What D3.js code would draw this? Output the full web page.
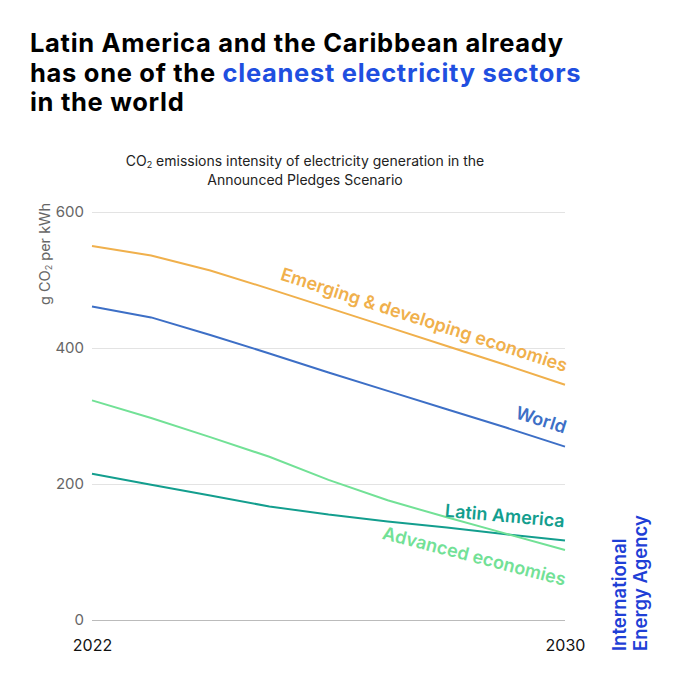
<!DOCTYPE html>
<html>
<head>
<meta charset="utf-8">
<script src="https://cdn.jsdelivr.net/npm/d3@7"></script>
<style>
  body { margin: 0; background: #fff; }
  svg { display: block; font-family: Inter, "Noto Sans", sans-serif; }
</style>
</head>
<body>
<div id="chart"></div>
<script>
"use strict";
var years = [2022, 2023, 2024, 2025, 2026, 2027, 2028, 2029, 2030];
var emerging = [550, 536, 514, 487, 459, 431, 403, 375, 346];
var world = [461, 445, 419, 392, 364, 337, 310, 283, 255];
var latam = [215, 199, 183, 167, 155, 145, 136, 126, 117];
var advanced = [323, 297, 269, 240, 206, 176, 151, 127, 103];
var yTicks = [0, 200, 400, 600];
var xTicks = [2022, 2030];

// label styling: offset from the line end (in the rotated frame) and optional angle
var series = [
  {name: "Emerging & developing economies", values: emerging, color: "#F0B04C", dx: -4, dy: -12, from: 2025},
  {name: "World", values: world, color: "#3D6FC6", dx: -5, dy: -12, from: 2028},
  {name: "Latin America", values: latam, color: "#139E8E", dx: -2, dy: -13, angle: 5},
  {name: "Advanced economies", values: advanced, color: "#72E196", dx: 8, dy: 35, angle: 14.5}
];

var W = 680, H = 680;
var svg = d3.select("#chart").append("svg").attr("width", W).attr("height", H);

var x = d3.scaleLinear().domain([2022, 2030]).range([92, 565]);
var y = d3.scaleLinear().domain([0, 600]).range([620, 212]);

// title
var title = svg.append("text").attr("font-size", 25.5).attr("font-weight", 700)
  .attr("letter-spacing", 0.7).attr("fill", "#000");
title.append("tspan").attr("x", 30).attr("y", 52).text("Latin America and the Caribbean already");
var l2 = title.append("tspan").attr("x", 30).attr("y", 82);
l2.append("tspan").text("has one of the ");
l2.append("tspan").attr("fill", "#1F4FE0").text("cleanest electricity sectors");
title.append("tspan").attr("x", 30).attr("y", 111).text("in the world");

// subtitle
var sub = svg.append("text").attr("text-anchor", "middle").attr("font-size", 14).attr("fill", "#222");
var s1 = sub.append("tspan").attr("x", 305).attr("y", 166);
s1.append("tspan").text("CO");
s1.append("tspan").attr("font-size", 9).attr("dy", 2).text("2");
s1.append("tspan").attr("dy", -2).text(" emissions intensity of electricity generation in the");
sub.append("tspan").attr("x", 305).attr("y", 185).text("Announced Pledges Scenario");

// grid + y axis
var yAxis = svg.append("g").attr("transform", "translate(" + x(2022) + ",0)")
  .call(d3.axisLeft(y).tickValues(yTicks).tickSize(-(x(2030) - x(2022))).tickPadding(8));
yAxis.select(".domain").remove();
yAxis.selectAll(".tick line").attr("stroke", function(d) { return d === 0 ? "#bbb" : "#e3e3e3"; });
yAxis.selectAll(".tick text").attr("font-size", 15).attr("fill", "#666").attr("font-family", "Inter, sans-serif");

// y title
var yt = svg.append("text").attr("transform", "translate(50,254) rotate(-90)")
  .attr("text-anchor", "middle").attr("font-size", 14.5).attr("fill", "#666");
yt.append("tspan").text("g CO");
yt.append("tspan").attr("font-size", 9).attr("dy", 2).text("2");
yt.append("tspan").attr("dy", -2).text(" per kWh");

// x axis
var xAxis = svg.append("g").attr("transform", "translate(0," + y(0) + ")")
  .call(d3.axisBottom(x).tickValues(xTicks).tickFormat(d3.format("d")).tickSize(0).tickPadding(20));
xAxis.select(".domain").remove();
xAxis.selectAll(".tick text").attr("font-size", 16).attr("fill", "#111").attr("font-family", "Inter, sans-serif");

// lines
var line = d3.line().x(function(d, i) { return x(years[i]); }).y(function(d) { return y(d); });
svg.append("g").selectAll("path").data(series).enter().append("path")
  .attr("d", function(d) { return line(d.values); })
  .attr("fill", "none").attr("stroke", function(d) { return d.color; }).attr("stroke-width", 2);

// labels along the lines
svg.append("g").selectAll("text").data(series).enter().append("text")
  .attr("text-anchor", "end").attr("font-size", 18).attr("font-weight", 600)
  .attr("fill", function(d) { return d.color; })
  .attr("transform", function(d) {
    var i1 = years.length - 1;
    var x1 = x(years[i1]), y1 = y(d.values[i1]);
    var ang = d.angle;
    if (ang === undefined) {
      var i0 = years.indexOf(d.from);
      ang = Math.atan2(y1 - y(d.values[i0]), x1 - x(years[i0])) * 180 / Math.PI;
    }
    return "translate(" + x1 + "," + y1 + ") rotate(" + ang + ") translate(" + d.dx + "," + d.dy + ")";
  })
  .text(function(d) { return d.name; });

// logo
var lg = svg.append("g").attr("transform", "translate(626,651) rotate(-90)")
  .attr("font-size", 18.5).attr("font-weight", 600).attr("fill", "#1F3FD6");
lg.append("text").attr("x", 0).attr("y", 0).text("International");
lg.append("text").attr("x", 0).attr("y", 21).text("Energy Agency");
</script>
</body>
</html>
